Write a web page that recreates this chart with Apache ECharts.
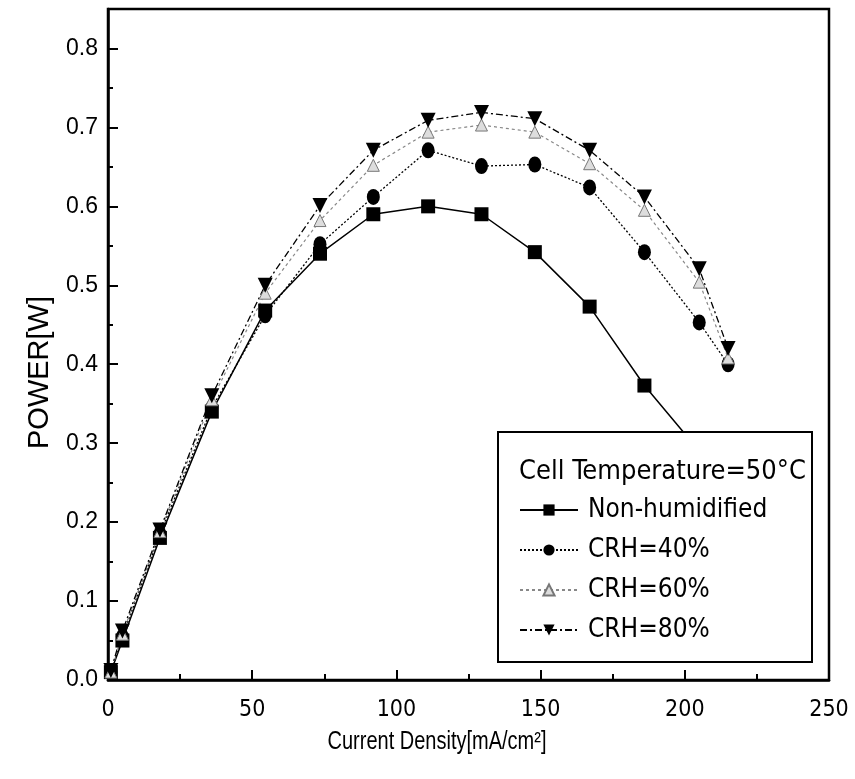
<!DOCTYPE html>
<html>
<head>
<meta charset="utf-8">
<script src="https://cdn.jsdelivr.net/npm/echarts@6/dist/echarts.min.js"></script>
<style>html,body{margin:0;padding:0;background:#fff}#c{width:855px;height:779px}</style>
</head>
<body>
<div id="c"></div>
<script>
const currentDensity = [1, 5, 18, 36, 54.5, 73.5, 92, 111, 129.5, 148, 167, 186, 205, 215];
const nonHumidified = [0.010, 0.050, 0.180, 0.340, 0.468, 0.540, 0.590, 0.600, 0.590, 0.542, 0.473, 0.373, 0.290, 0.245];
const crh40 = [0.010, 0.055, 0.185, 0.345, 0.462, 0.552, 0.612, 0.671, 0.651, 0.653, 0.624, 0.542, 0.453, 0.400];
const crh60 = [0.010, 0.058, 0.188, 0.355, 0.490, 0.582, 0.652, 0.694, 0.703, 0.694, 0.654, 0.595, 0.504, 0.408];
const crh80 = [0.012, 0.062, 0.190, 0.360, 0.500, 0.601, 0.671, 0.709, 0.719, 0.711, 0.671, 0.612, 0.521, 0.420];
const seriesNames = ['Non-humidified', 'CRH=40%', 'CRH=60%', 'CRH=80%'];
const legendTitle = 'Cell Temperature=50°C';
const xTitle = 'Current Density[mA/cm²]';
const yTitle = 'POWER[W]';

const pairs = arr => currentDensity.map((x, i) => [x, arr[i]]);
const narrow = '"Liberation Sans Narrow", "DejaVu Sans Condensed", "Liberation Sans", sans-serif';
const arial = '"Liberation Sans", Arial, sans-serif';

const chart = echarts.init(document.getElementById('c'));
chart.setOption({
  animation: false,
  backgroundColor: '#fff',
  grid: { left: 108, right: 26, top: 9, bottom: 99, show: true, borderColor: '#000', borderWidth: 2.5, backgroundColor: 'transparent' },
  xAxis: {
    type: 'value', min: 0, max: 250, interval: 50,
    axisLine: { show: true, lineStyle: { color: '#000', width: 2.5 } },
    axisTick: { show: true, inside: true, length: 10, lineStyle: { color: '#000', width: 2 } },
    minorTick: { show: true, splitNumber: 2, length: 6, lineStyle: { color: '#000', width: 2 } },
    axisLabel: { fontFamily: narrow, fontSize: 23, color: '#000', margin: 19 },
    splitLine: { show: false }
  },
  yAxis: {
    type: 'value', min: 0, max: 0.85, interval: 0.1,
    name: yTitle, nameLocation: 'middle', nameGap: 54, nameRotate: 90,
    nameTextStyle: { fontFamily: arial, fontSize: 29, color: '#000', padding: [0, 56, 0, 0] },
    axisLine: { show: true, lineStyle: { color: '#000', width: 2.5 } },
    axisTick: { show: true, inside: true, length: 10, lineStyle: { color: '#000', width: 2 } },
    minorTick: { show: true, splitNumber: 2, length: 5, lineStyle: { color: '#000', width: 2 } },
    axisLabel: { fontFamily: arial, fontSize: 23, color: '#000', margin: 10, showMaxLabel: false, formatter: v => v.toFixed(1) },
    splitLine: { show: false }
  },
  graphic: [{
    type: 'group', z: 5,
    children: [
      { type: 'rect', shape: { x: 498, y: 432, width: 314, height: 230 }, style: { fill: '#fff', stroke: '#000', lineWidth: 2 }, z: 5 },
      { type: 'text', x: 519, y: 472, style: { text: legendTitle, fontFamily: narrow, fontSize: 27, fill: '#000', verticalAlign: 'middle' }, z: 6 },
      { type: 'text', x: 437, y: 742, scaleX: 0.8, style: { text: xTitle, fontFamily: arial, fontSize: 25, fill: '#000', align: 'center', verticalAlign: 'middle' }, z: 6 }
    ]
  }],
  legend: {
    z: 10,
    orient: 'vertical', left: 519, top: 496,
    itemWidth: 58, itemHeight: 14, itemGap: 12,
    backgroundColor: 'transparent', padding: 0,
    textStyle: { fontFamily: narrow, fontSize: 26, color: '#000', lineHeight: 28, padding: [0, 0, 0, 5] },
    data: seriesNames
  },
  series: [
    { name: seriesNames[0], type: 'line', data: pairs(nonHumidified), symbol: 'rect', symbolSize: 14,
      itemStyle: { color: '#000' }, lineStyle: { color: '#000', width: 1.5, type: 'solid' } },
    { name: seriesNames[1], type: 'line', data: pairs(crh40), symbol: 'circle', symbolSize: [13, 16],
      itemStyle: { color: '#000' }, lineStyle: { color: '#000', width: 1.3, type: [2, 2] } },
    { name: seriesNames[2], type: 'line', data: pairs(crh60), symbol: 'triangle', symbolSize: 12,
      itemStyle: { color: '#ddd', borderColor: '#777', borderWidth: 1 }, lineStyle: { color: '#888', width: 1.2, type: [3, 3] } },
    { name: seriesNames[3], type: 'line', data: pairs(crh80), symbol: 'triangle', symbolRotate: 180, symbolSize: 15,
      itemStyle: { color: '#000' }, lineStyle: { color: '#000', width: 1.3, type: [7, 3, 2, 3] } }
  ]
});
</script>
</body>
</html>
